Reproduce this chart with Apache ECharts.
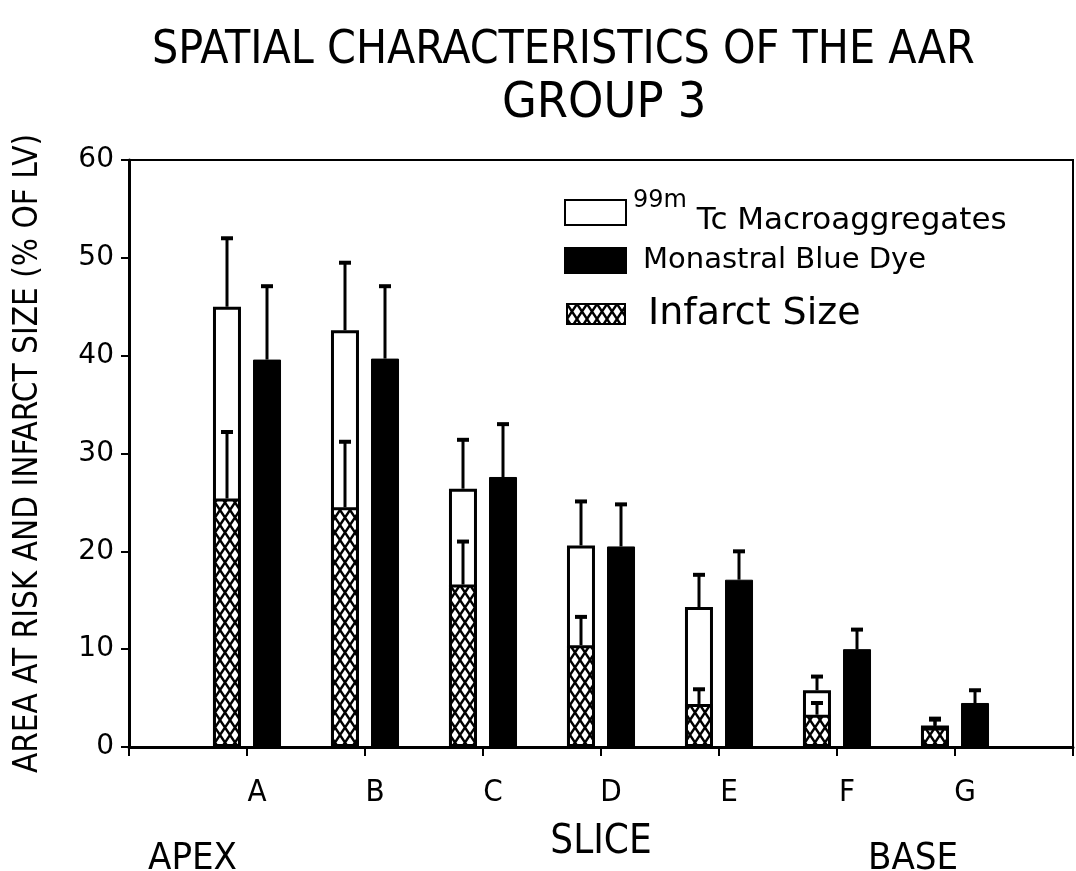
<!DOCTYPE html>
<html>
<head>
<meta charset="utf-8">
<script src="https://cdn.jsdelivr.net/npm/echarts@6/dist/echarts.min.js"></script>
<style>
  html, body { margin: 0; padding: 0; background: #fff; }
  #main { width: 1076px; height: 871px; }
</style>
</head>
<body>
<div id="main"></div>
<script>
// slices, with empty slots at both ends of the axis
const slices = ["", "A", "B", "C", "D", "E", "F", "G", ""];
const yTicks = [0, 10, 20, 30, 40, 50, 60];

// 99mTc macroaggregates (white)
const tcMean = [45.0, 42.6, 26.4, 20.6, 14.3, 5.8, 2.2];
const tcUpper = [52.0, 49.5, 31.4, 25.1, 17.6, 7.2, 2.9];
// monastral blue dye (black)
const blueMean = [39.6, 39.7, 27.6, 20.5, 17.1, 10.0, 4.5];
const blueUpper = [47.1, 47.1, 33.0, 24.8, 20.0, 12.0, 5.8];
// infarct size (hatched, drawn over the white bar)
const infMean = [25.4, 24.5, 16.6, 10.4, 4.4, 3.3, 2.0];
const infUpper = [32.2, 31.2, 21.0, 13.3, 5.9, 4.5, 2.8];

const FONT = "'Liberation Sans Narrow', 'DejaVu Sans Condensed', 'Liberation Sans', sans-serif";
const ROUND = "'DejaVu Sans', sans-serif";

function hatch() {
  const w = 10, h = 15;
  const c = document.createElement("canvas");
  c.width = w;
  c.height = h;
  const ctx = c.getContext("2d");
  ctx.fillStyle = "#fff";
  ctx.fillRect(0, 0, w, h);
  ctx.strokeStyle = "#000";
  ctx.lineWidth = 2.4;
  ctx.beginPath();
  ctx.moveTo(-1, -1.5); ctx.lineTo(w + 1, h + 1.5);
  ctx.moveTo(w + 1, -1.5); ctx.lineTo(-1, h + 1.5);
  ctx.stroke();
  return c;
}
const hatchFill = { image: hatch(), repeat: "repeat" };

// bars sit at slot index 1..7
const atSlot = (arr) => ["-"].concat(arr, ["-"]);
const errData = (mean, upper) => mean.map((v, i) => [i + 1, v, upper[i]]);

function errBar(offset) {
  return function (params, api) {
    const x = api.coord([api.value(0), 0])[0] + offset;
    const y0 = api.coord([api.value(0), api.value(1)])[1];
    const y1 = api.coord([api.value(0), api.value(2)])[1];
    return {
      type: "group",
      children: [
        { type: "line", shape: { x1: x, y1: y0, x2: x, y2: y1 }, style: { stroke: "#000", lineWidth: 3 } },
        { type: "line", shape: { x1: x - 6, y1: y1, x2: x + 6, y2: y1 }, style: { stroke: "#000", lineWidth: 4 } },
      ],
    };
  };
}

const chart = echarts.init(document.getElementById("main"));

const option = {
  backgroundColor: "#fff",
  animation: false,
  title: [
    {
      text: "SPATIAL CHARACTERISTICS OF THE AAR",
      left: 147, top: 23,
      textStyle: { fontFamily: FONT, fontWeight: "normal", fontSize: 46, color: "#000" },
    },
    {
      text: "GROUP 3",
      left: 497, top: 74,
      textStyle: { fontFamily: FONT, fontWeight: "normal", fontSize: 50, color: "#000" },
    },
  ],
  legend: [
    {
      data: ["Tc"], left: 559, top: 184, orient: "vertical",
      itemWidth: 61, itemHeight: 25, icon: "rect",
      formatter: () => "{sup|99m}{main| Tc Macroaggregates}",
      textStyle: {
        padding: [0, 0, 0, 2],
        rich: {
          sup: { fontFamily: ROUND, fontSize: 24, color: "#000", verticalAlign: "top", padding: [0, 0, 20, 0] },
          main: { fontFamily: ROUND, fontSize: 31, color: "#000", padding: [16, 0, 0, 0] },
        },
      },
    },
    {
      data: ["Monastral Blue Dye"], left: 559, top: 241, orient: "vertical",
      itemWidth: 61, itemHeight: 25, icon: "rect",
      textStyle: { fontFamily: ROUND, fontSize: 29, color: "#000", padding: [0, 0, 0, 12] },
    },
    {
      data: ["Infarct Size"], left: 561, top: 290, orient: "vertical",
      itemWidth: 58, itemHeight: 20, icon: "rect",
      textStyle: { fontFamily: ROUND, fontSize: 38, color: "#000", padding: [0, 0, 0, 18] },
    },
  ],
  grid: {
    left: 129, right: 3, top: 160, bottom: 124,
    show: true, borderColor: "#000", borderWidth: 2,
  },
  xAxis: [
    {
      type: "category",
      data: slices,
      boundaryGap: false,
      name: "SLICE",
      nameLocation: "middle",
      nameGap: 76,
      nameTextStyle: { fontFamily: FONT, fontSize: 40, color: "#000" },
      axisLine: { lineStyle: { color: "#000", width: 3 } },
      axisTick: { show: true, length: 9, lineStyle: { color: "#000", width: 2 } },
      axisLabel: {
        interval: 0, margin: 30, padding: [0, 0, 0, 20],
        fontFamily: FONT, fontSize: 31, color: "#000",
      },
      splitLine: { show: false },
    },
    {
      type: "category",
      data: slices,
      boundaryGap: false,
      show: false,
    },
  ],
  yAxis: {
    type: "value",
    min: yTicks[0],
    max: yTicks[yTicks.length - 1],
    interval: 10,
    name: "AREA AT RISK AND INFARCT SIZE (% OF LV)",
    nameLocation: "middle",
    nameGap: 84,
    nameTextStyle: { fontFamily: FONT, fontSize: 33, color: "#000" },
    axisLine: { show: true, lineStyle: { color: "#000", width: 3 } },
    axisTick: { show: true, length: 8, lineStyle: { color: "#000", width: 2 } },
    axisLabel: { margin: 15, fontFamily: ROUND, fontSize: 28, color: "#000" },
    splitLine: { show: false },
  },
  series: [
    {
      name: "Tc",
      type: "bar",
      xAxisIndex: 0,
      data: atSlot(tcMean),
      barWidth: 28,
      barGap: "43%",
      itemStyle: { color: "#fff", borderColor: "#000", borderWidth: 3 },
    },
    {
      name: "Monastral Blue Dye",
      type: "bar",
      xAxisIndex: 0,
      data: atSlot(blueMean),
      barWidth: 28,
      barGap: "43%",
      itemStyle: { color: "#000", borderColor: "#000", borderWidth: 1 },
    },
    {
      name: "Infarct Size",
      type: "bar",
      xAxisIndex: 1,
      data: atSlot(infMean),
      barWidth: 28,
      barGap: "43%",
      z: 3,
      itemStyle: { color: hatchFill, borderColor: "#000", borderWidth: 3 },
    },
    {
      name: "_slot",
      type: "bar",
      xAxisIndex: 1,
      data: [],
      barWidth: 28,
      barGap: "43%",
    },
    { type: "custom", xAxisIndex: 0, z: 5, renderItem: errBar(-20), data: errData(tcMean, tcUpper) },
    { type: "custom", xAxisIndex: 0, z: 5, renderItem: errBar(20), data: errData(blueMean, blueUpper) },
    { type: "custom", xAxisIndex: 0, z: 5, renderItem: errBar(-20), data: errData(infMean, infUpper) },
  ],
  graphic: [
    { type: "text", left: 148, top: 840, style: { text: "APEX", font: "38px " + FONT, fill: "#000" } },
    { type: "text", left: 868, top: 840, style: { text: "BASE", font: "38px " + FONT, fill: "#000" } },
  ],
};

chart.setOption(option);
</script>
</body>
</html>
